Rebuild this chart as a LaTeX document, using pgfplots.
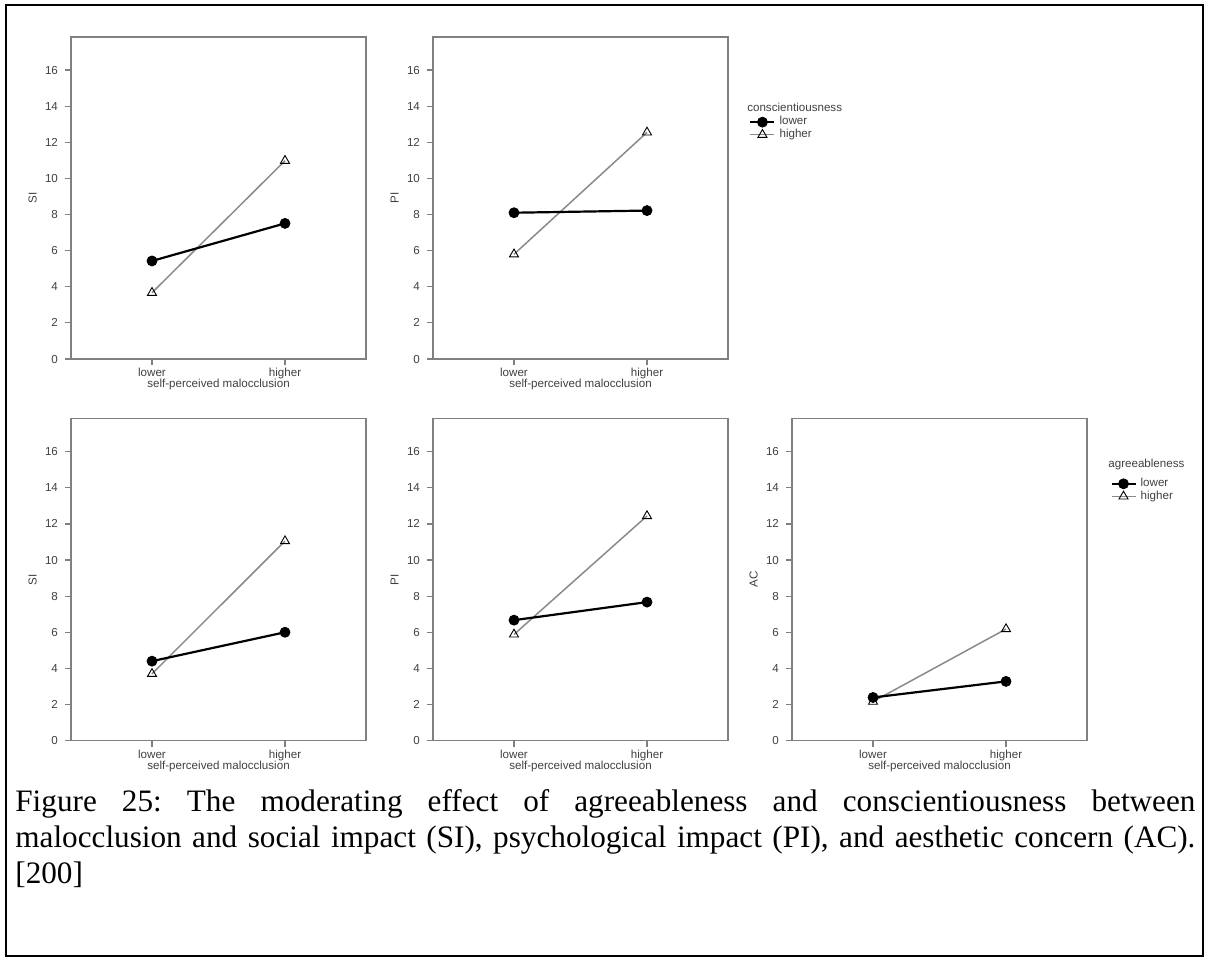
\documentclass[border=0pt]{standalone}
\usepackage{fontspec}
\setmainfont{Liberation Serif}
\newfontfamily\arial{Liberation Sans}
\usepackage{pgfplots}
\pgfplotsset{compat=1.18}
\definecolor{spssbox}{HTML}{808080}
\definecolor{spsstext}{HTML}{404040}
\definecolor{spssgray}{HTML}{8A8A8A}
\newcommand{\chartfont}{\arial\fontsize{5.8}{6.2}\selectfont}

\pgfplotsset{
  spss/.style={
    scale only axis, width=147.5pt, height=161pt,
    xmin=-0.609, xmax=1.609, ymin=0, ymax=17.83,
    xtick={0,1}, xticklabels={lower,higher},
    ytick={0,2,...,16},
    clip=false,
    axis line style={spssbox, line width=0.6pt},
    tick style={spssbox, line width=0.6pt},
    tick align=outside, tick pos=left,
    major tick length=3pt,
    /pgf/number format/assume math mode=true,
    every tick label/.append style={font=\chartfont, text=spsstext},
    x tick label style={yshift=2pt},
    xlabel={self-perceived malocclusion},
    xlabel style={font=\chartfont, text=spsstext, at={(axis description cs:0.5,-0.09)}, anchor=base},
    ylabel style={font=\chartfont, text=spsstext, at={(axis description cs:-0.13,0.5)}, anchor=center, rotate=0},
    reverse legend,
    legend image code/.code={\draw[mark repeat=2,mark phase=2,##1] plot coordinates {(0pt,0pt) (6pt,0pt) (12pt,0pt)};},
    legend style={draw=none, fill=none, font=\chartfont, text=spsstext, inner sep=0pt, row sep=-3.4pt, anchor=north west},
    legend cell align=left,
  },
  lowline/.style={black, line width=1.1pt, mark=*, mark size=2.5pt, mark options={fill=black, line width=0.4pt}},
  highline/.style={spssgray, line width=0.75pt, mark=triangle, mark size=2.6pt, mark options={draw=black, fill=white, line width=0.45pt}},
}

\begin{document}
\begin{tikzpicture}
\path (0pt,0pt) rectangle (604pt,-480pt);
\draw[black, line width=1.2pt] (3pt,-2.5pt) rectangle (601.5pt,-478pt);

% top row: conscientiousness
\begin{axis}[spss, at={(35.5pt,-179.5pt)}, anchor=south west, ylabel={SI}]
  \addplot[highline] coordinates {(0,3.67) (1,10.98)};
  \addplot[lowline] coordinates {(0,5.43) (1,7.51)};
\end{axis}

\begin{axis}[spss, at={(216.5pt,-179.5pt)}, anchor=south west, ylabel={PI},
  legend style={at={(axis description cs:1.071,0.767)}}]
  \addplot[highline] coordinates {(0,5.80) (1,12.55)};
  \addplot[lowline] coordinates {(0,8.10) (1,8.22)};
  \legend{higher,lower}
  \node[anchor=base west, font=\chartfont, text=spsstext, inner sep=0pt] at (axis description cs:1.064,0.770) {conscientiousness};
\end{axis}

% bottom row: agreeableness
\begin{axis}[spss, at={(35.5pt,-370.3pt)}, anchor=south west, ylabel={SI}]
  \addplot[highline] coordinates {(0,3.70) (1,11.05)};
  \addplot[lowline] coordinates {(0,4.40) (1,6.00)};
\end{axis}

\begin{axis}[spss, at={(216.5pt,-370.3pt)}, anchor=south west, ylabel={PI}]
  \addplot[highline] coordinates {(0,5.88) (1,12.44)};
  \addplot[lowline] coordinates {(0,6.67) (1,7.67)};
\end{axis}

\begin{axis}[spss, at={(396pt,-370.3pt)}, anchor=south west, ylabel={AC},
  legend style={at={(axis description cs:1.078,0.829)}}]
  \addplot[highline] coordinates {(0,2.16) (1,6.18)};
  \addplot[lowline] coordinates {(0,2.39) (1,3.28)};
  \legend{higher,lower}
  \node[anchor=base west, font=\chartfont, text=spsstext, inner sep=0pt] at (axis description cs:1.071,0.847) {agreeableness};
\end{axis}

\node[anchor=base west, text width=590pt, align=justify, inner sep=0pt,
  font=\fontsize{15.6}{18}\selectfont] at (7.5pt,-405.5pt)
  {\frenchspacing\hyphenpenalty=10000 Figure 25: The moderating effect of agreeableness and conscientiousness between\linebreak malocclusion and social impact (SI), psychological impact (PI), and aesthetic concern (AC).\linebreak\relax [200]};
\end{tikzpicture}
\end{document}
